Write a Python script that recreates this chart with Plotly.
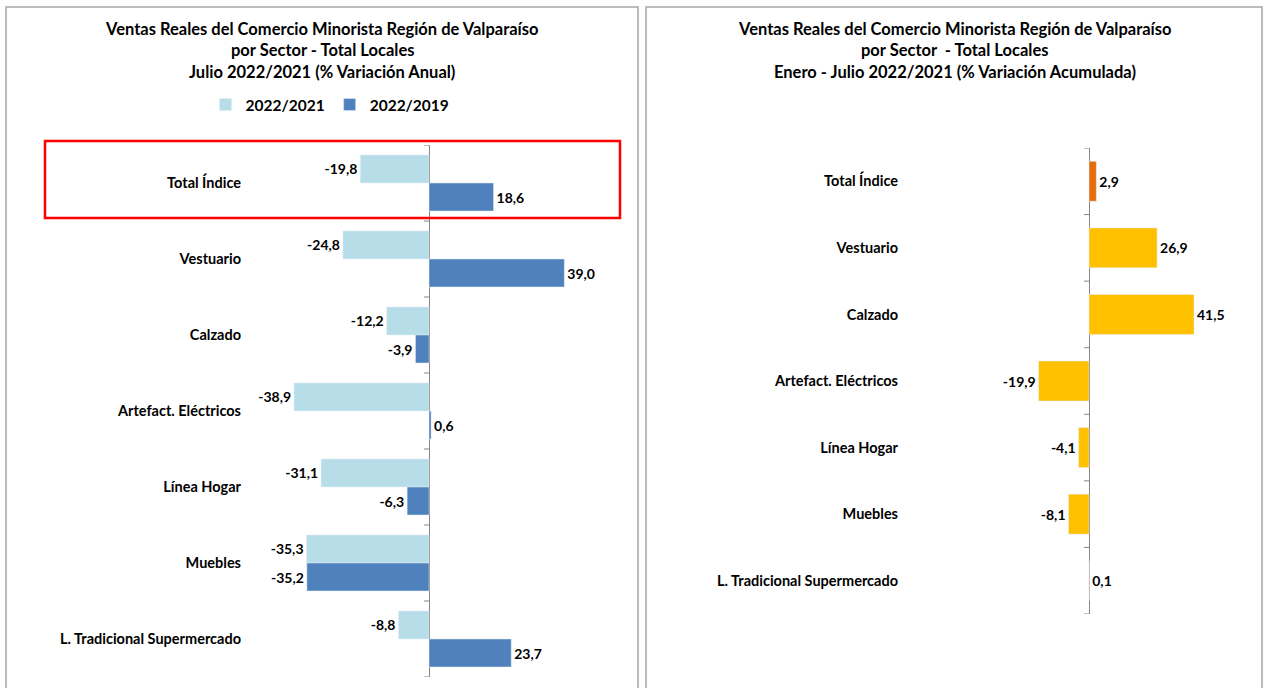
import plotly.graph_objects as go

W, H = 1267, 688

categories = ["Total Índice", "Vestuario", "Calzado", "Artefact. Eléctricos",
              "Línea Hogar", "Muebles", "L. Tradicional Supermercado"]
var_2022_2021 = [-19.8, -24.8, -12.2, -38.9, -31.1, -35.3, -8.8]
var_2022_2019 = [18.6, 39.0, -3.9, 0.6, -6.3, -35.2, 23.7]
acum_2022_2021 = [2.9, 26.9, 41.5, -19.9, -4.1, -8.1, 0.1]

series_names = ["2022/2021", "2022/2019"]
title_left = ["Ventas Reales del Comercio Minorista Región de Valparaíso",
              "por Sector - Total Locales",
              "Julio 2022/2021 (% Variación Anual)"]
title_right = ["Ventas Reales del Comercio Minorista Región de Valparaíso",
               "por Sector  - Total Locales",
               "Enero - Julio 2022/2021 (% Variación Acumulada)"]

FONT = "Lato"
LIGHT = "#b7dde8"
DARK = "#4f81bd"
YELLOW = "#ffc000"
ORANGE = "#e46c0a"
AXIS = "#868686"

def px(v):
    return v / W

def py(v):
    return 1 - v / H

fig = go.Figure()
txtfont = dict(family=FONT, size=14, color="black", weight="bold")
catfont = dict(family=FONT, size=14.5, color="black", weight="bold")

fig.add_trace(go.Bar(y=categories, x=var_2022_2021, orientation="h", name=series_names[0],
                     marker=dict(color=LIGHT), texttemplate="%{x:.1f}", textposition="outside",
                     textfont=txtfont, cliponaxis=False, xaxis="x", yaxis="y"))
fig.add_trace(go.Bar(y=categories, x=var_2022_2019, orientation="h", name=series_names[1],
                     marker=dict(color=DARK), texttemplate="%{x:.1f}", textposition="outside",
                     textfont=txtfont, cliponaxis=False, xaxis="x", yaxis="y"))
right_colors = [ORANGE] + [YELLOW] * (len(categories) - 1)
fig.add_trace(go.Bar(y=categories, x=acum_2022_2021, orientation="h", showlegend=False,
                     marker=dict(color=right_colors), texttemplate="%{x:.1f}", textposition="outside",
                     textfont=txtfont, cliponaxis=False, xaxis="x2", yaxis="y2", width=0.6))

n = len(categories)
fig.update_layout(
    width=W, height=H, margin=dict(l=0, r=0, t=0, b=0),
    paper_bgcolor="white", plot_bgcolor="white",
    separators=",.",
    barmode="group", bargap=0.263, bargroupgap=0,
    font=dict(family=FONT, color="black"),
    xaxis=dict(domain=[px(248), px(630)], range=[-(429 - 248) / 3.47, (630 - 429) / 3.47],
               showgrid=False, showticklabels=False, zeroline=True, zerolinecolor=AXIS,
               zerolinewidth=1, fixedrange=True),
    yaxis=dict(domain=[py(677), py(145)], range=[n - 0.5, -0.5], showgrid=False,
               ticks="", tickfont=catfont, anchor="x", ticklabelstandoff=6),
    xaxis2=dict(domain=[px(905), px(1255)], range=[-(1089 - 905) / 2.53, (1255 - 1089) / 2.53],
                showgrid=False, showticklabels=False, zeroline=True, zerolinecolor=AXIS,
                zerolinewidth=1, anchor="y2"),
    yaxis2=dict(domain=[py(614), py(148)], range=[n - 0.5, -0.5], showgrid=False,
                ticks="", tickfont=catfont, anchor="x2", ticklabelstandoff=6),
    legend=dict(orientation="h", x=px(330), y=py(105), xanchor="center", yanchor="middle",
                font=dict(family=FONT, size=15.5, color="black", weight="bold"),
                itemwidth=30, traceorder="normal"),
    showlegend=True,
)

shapes = []
# panel borders
shapes.append(dict(type="rect", xref="paper", yref="paper", x0=px(6), x1=px(638), y0=py(700), y1=py(7),
                   line=dict(color="#a6a6a6", width=1.5)))
shapes.append(dict(type="rect", xref="paper", yref="paper", x0=px(646), x1=px(1262), y0=py(700), y1=py(7),
                   line=dict(color="#a6a6a6", width=1.5)))
# category-boundary ticks on the zero axis
for i in range(n + 1):
    for xr, yr in (("x", "y"), ("x2", "y2")):
        shapes.append(dict(type="line", xref=xr, yref=yr, xsizemode="pixel", xanchor=0,
                           x0=-5, x1=0, y0=i - 0.5, y1=i - 0.5, line=dict(color=AXIS, width=1)))
# red highlight box
shapes.append(dict(type="rect", xref="paper", yref="paper", x0=px(45), x1=px(620), y0=py(218), y1=py(141),
                   line=dict(color="#ff0000", width=2.5)))
fig.update_layout(shapes=shapes)

annotations = []
for k, line in enumerate(title_left):
    annotations.append(dict(text="<b>" + line + "</b>", xref="paper", yref="paper", x=px(322),
                            y=py(29 + 21.5 * k), xanchor="center", yanchor="middle", showarrow=False,
                            font=dict(family=FONT, size=16.5, color="black")))
for k, line in enumerate(title_right):
    annotations.append(dict(text="<b>" + line + "</b>", xref="paper", yref="paper", x=px(955),
                            y=py(29 + 21.5 * k), xanchor="center", yanchor="middle", showarrow=False,
                            font=dict(family=FONT, size=16.5, color="black")))
fig.update_layout(annotations=annotations)

fig.write_html("out.html", config={"displayModeBar": False},
               post_script="document.body.style.margin='0';document.body.style.padding='0';")
